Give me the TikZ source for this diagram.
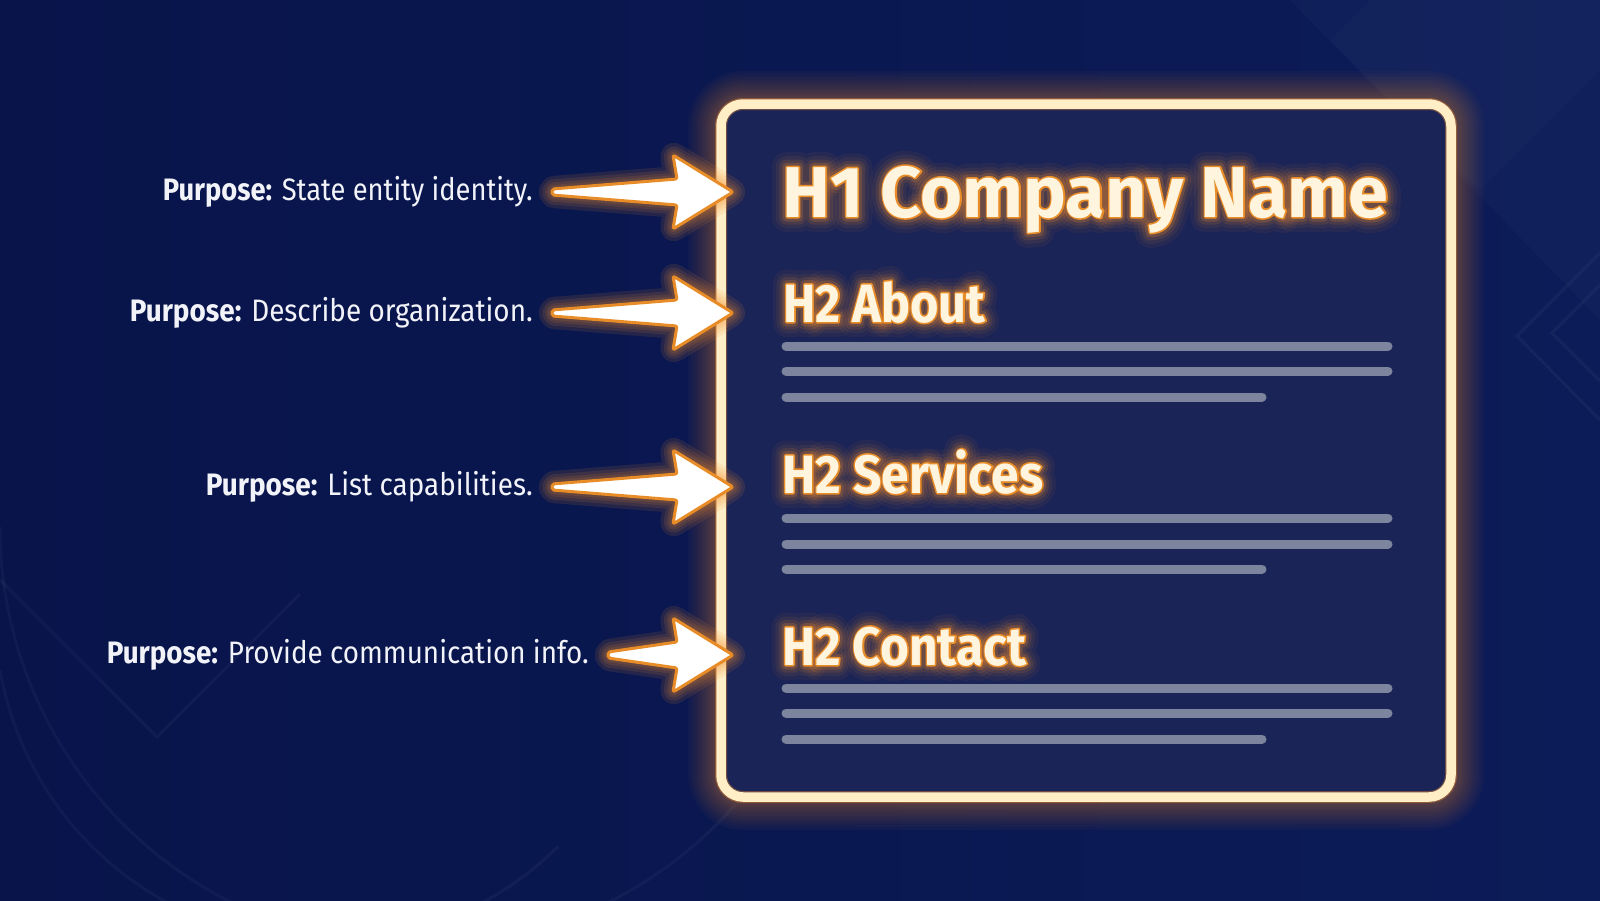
\documentclass[tikz,border=0pt]{standalone}
\usepackage{fontspec}
\setmainfont{Fira Sans}
\usetikzlibrary{calc}
\definecolor{bgA}{RGB}{8,20,74}
\definecolor{bgB}{RGB}{12,28,88}
\definecolor{panelc}{RGB}{27,36,86}
\definecolor{glowc}{RGB}{240,140,45}
\definecolor{rimc}{RGB}{255,238,198}
\definecolor{headfill}{RGB}{255,245,222}
\definecolor{headline}{RGB}{232,140,40}
\definecolor{barc}{RGB}{124,132,158}
\definecolor{labeltext}{RGB}{242,243,248}
\newsavebox\fitbox
\newdimen\fitdim
\newcommand\fitto[2]{\sbox\fitbox{#2}\fitdim=\wd\fitbox\pgfmathsetmacro\fitsc{#1/\the\fitdim}\scalebox{\fitsc}[1]{\usebox\fitbox}}
\newcommand\strk[2]{\special{pdf:literal direct 1 Tr #1 w 1 j 1 J}#2\special{pdf:literal direct 0 Tr}}
\tikzset{
  headfont/.style={font=\fontsize{#1}{#1}\selectfont\bfseries, inner sep=0pt, anchor=base west},
  lbl/.style={font=\fontsize{31}{31}\selectfont, text=labeltext, inner sep=0pt, anchor=base east},
  barline/.style={draw=barc, line width=9pt, line cap=round},
  decor/.style={draw=white, draw opacity=0.035, line width=3pt},
}
\newcommand\glowhead[5]{%
  \foreach \gw/\go in {30/0.05,22/0.08,15/0.12,9/0.2}{%
    \node[headfont=#3, text=glowc, opacity=\go] at #2 {\fitto{#4}{\strk{\gw}{#5}}};}
  \node[headfont=#3, text=headline] at #2 {\fitto{#4}{\strk{3.2}{#5}}};
  \node[headfont=#3, text=headfill] (#1) at #2 {\fitto{#4}{#5}};
}
\def\arrowpath#1#2{($(#1)+(0,-3)$) -- ($(#2)+(-56,-13)$) -- ($(#2)+(-60,-37)$) -- (#2) -- ($(#2)+(-60,37)$) -- ($(#2)+(-56,13)$) -- ($(#1)+(0,3)$) -- cycle}
\newcommand\blockarrow[2]{%
  \foreach \gw in {26,19,13,8}{%
    \draw[glowc, draw opacity=0.12, line width=\gw pt, line join=round, rounded corners=2pt] \arrowpath{#1}{#2};}
  \draw[draw=headline, fill=white, line width=3pt, line join=round, rounded corners=2pt] \arrowpath{#1}{#2};
}
\begin{document}
\begin{tikzpicture}[x=1pt,y=-1pt]
\useasboundingbox (0,0) rectangle (1600,900);
\shade[left color=bgA, right color=bgB] (0,0) rectangle (1600,900);
% faint background decoration
\fill[white, opacity=0.02] (1290,0) -- (1600,0) -- (1600,320) -- cycle;
\fill[white, opacity=0.015] (1330,40) -- (1480,190) -- (1600,70) -- (1600,0) -- (1370,0) -- cycle;
\draw[decor] (1600,253) -- (1517,336) -- (1600,420);
\draw[decor] (1600,285) -- (1552,333) -- (1600,381);
\draw[decor] (0,580) -- (157,737) -- (300,594);
\draw[decor] (0,527) arc[start angle=180, end angle=20, radius=420] ;
\draw[decor] (0,670) arc[start angle=170, end angle=45, radius=330];

% panel
\coordinate (pTL) at (721,104);
\coordinate (pBR) at (1451,797);
\foreach \gw in {66,60,54,48,43,38,33,28,24,20,16}{%
  \draw[glowc, draw opacity=0.035, line width=\gw pt, rounded corners=22pt] (pTL) rectangle (pBR);}
\fill[panelc, rounded corners=20pt] (pTL) rectangle (pBR);
\draw[glowc, draw opacity=0.4, line width=12pt, rounded corners=22pt] (pTL) rectangle (pBR);
\draw[rimc, line width=9.5pt, rounded corners=22pt] (pTL) rectangle (pBR);

% headings
\glowhead{h1}{(782,217)}{72}{606}{H1 Company Name}
\glowhead{h2a}{(783,322)}{54}{202}{H2 About}
\glowhead{h2s}{(782,493)}{54}{261}{H2 Services}
\glowhead{h2c}{(782,665)}{54}{244}{H2 Contact}

% text bars
\foreach \y/\r in {346/1388,371/1388,397/1262, 518/1388,544/1388,569/1262, 688/1388,713/1388,739/1262}{%
  \draw[barline] (786,\y) -- (\r,\y);}

% labels
\node[lbl] (l1) at (533,200) {\fitto{370}{\textbf{Purpose:} State entity identity.}};
\node[lbl] (l2) at (533,321) {\fitto{403}{\textbf{Purpose:} Describe organization.}};
\node[lbl] (l3) at (533,495) {\fitto{327}{\textbf{Purpose:} List capabilities.}};
\node[lbl] (l4) at (589,663) {\fitto{482}{\textbf{Purpose:} Provide communication info.}};

% arrows
\foreach \i in {1,2,3,4}{%
  \coordinate (s\i) at ($(l\i.base east)+(19,-8)$);
  \coordinate (e\i) at ($(pTL |- s\i)+(12,0)$);
}
\blockarrow{s1}{e1}
\blockarrow{s2}{e2}
\blockarrow{s3}{e3}
\blockarrow{s4}{e4}
\end{tikzpicture}
\end{document}
